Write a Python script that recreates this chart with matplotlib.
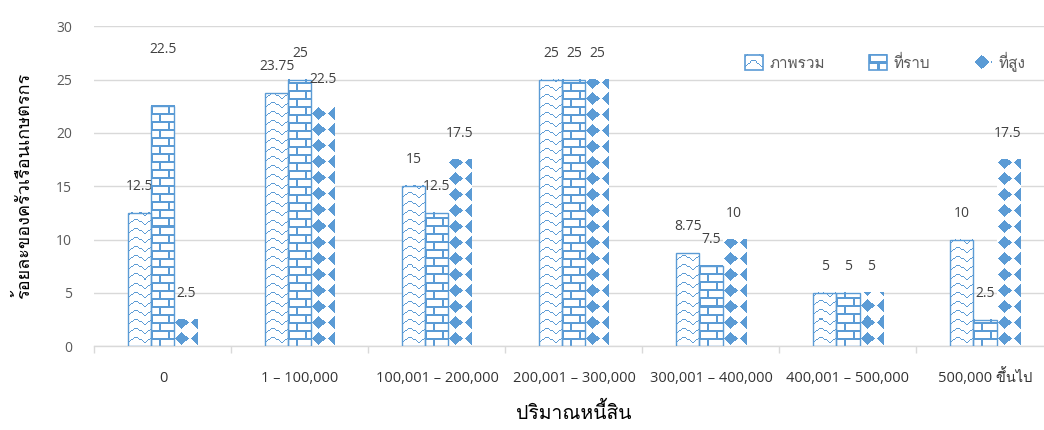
import numpy as np
import matplotlib
matplotlib.use("Agg")
import matplotlib.pyplot as plt
from matplotlib import font_manager
from matplotlib.ft2font import FT2Font
from matplotlib.image import BboxImage
from matplotlib.legend_handler import HandlerBase
from matplotlib.patches import Patch, Rectangle
from matplotlib.transforms import Bbox, TransformedBbox

# share of farm households (%) by debt bracket
debt_brackets = ["0", "1 – 100,000", "100,001 – 200,000", "200,001 – 300,000",
                 "300,001 – 400,000", "400,001 – 500,000", "500,000 ขึ้นไป"]
series_names = ["ภาพรวม", "ที่ราบ", "ที่สูง"]
overall = [12.5, 23.75, 15, 25, 8.75, 5, 10]
lowland = [22.5, 25, 12.5, 25, 7.5, 5, 2.5]
highland = [2.5, 22.5, 17.5, 25, 10, 5, 17.5]

BLUE = "#5B9BD5"


def find_thai_family():
    """First installed font that actually has Thai glyphs."""
    seen = set()
    for f in font_manager.fontManager.ttflist:
        if f.name in seen:
            continue
        seen.add(f.name)
        try:
            if 0x0E01 in FT2Font(f.fname).get_charmap():
                return f.name
        except Exception:
            continue
    return None


thai = find_thai_family()
FAMILY = ["Open Sans"] + ([thai] if thai else []) + ["DejaVu Sans"]
plt.rcParams["font.family"] = FAMILY


# --- fill patterns (True = blue pixel) ---
def wave_tile():
    t = np.zeros((9, 16), dtype=bool)
    ys = np.round(2.5 + 2.5 * np.cos(2 * np.pi * np.arange(17) / 16)).astype(int)
    for xi in range(16):
        lo, hi = sorted((ys[xi], ys[xi + 1]))
        t[lo:max(hi, lo + 1), xi] = True
    return t


def brick_tile():
    t = np.zeros((16, 16), dtype=bool)
    t[0:2, :] = True
    t[8:10, :] = True
    t[0:8, 0:2] = True
    t[8:16, 8:10] = True
    return t


def diamond_tile():
    yy, xx = np.mgrid[0:16, 0:15]
    return np.abs(xx - 7) + np.abs(yy - 8) <= 6.5


def fill_pattern(tile, w, h):
    th, tw = tile.shape
    big = np.tile(tile, (h // th + 2, w // tw + 2))
    mask = big[-h:, :w]
    rgba = np.ones((h, w, 4))
    rgba[mask] = matplotlib.colors.to_rgba(BLUE)
    return rgba


class PatternHandler(HandlerBase):
    def __init__(self, tile, edge):
        super().__init__()
        self.tile = tile
        self.edge = edge

    def create_artists(self, legend, orig_handle, xdescent, ydescent,
                       width, height, fontsize, trans):
        bb = Bbox.from_bounds(-xdescent, -ydescent, width, height)
        img = BboxImage(TransformedBbox(bb, trans), interpolation="nearest")
        px = legend.figure.dpi / 72
        img.set_data(fill_pattern(self.tile, max(int(width * px), 1),
                                  max(int(height * px), 1)))
        arts = [img]
        if self.edge:
            arts.append(Rectangle((-xdescent, -ydescent), width, height,
                                  fill=False, edgecolor=BLUE, lw=1.2,
                                  transform=trans))
        return arts


fig = plt.figure(figsize=(10.44, 4.30), dpi=100)
ax = fig.add_axes([0.0905, 0.1947, 0.9186, 0.7442])
ax.set_xlim(-0.5, len(debt_brackets) - 0.5)
ax.set_ylim(0, 30)

tiles = [wave_tile(), brick_tile(), diamond_tile()]
edges = [True, True, False]
bar_w = 0.168
x = np.arange(len(debt_brackets))
label_lift = {(1, 0): 41}   # the 22.5 label on the first group sits higher

for i, (vals, tile, edge) in enumerate(zip([overall, lowland, highland], tiles, edges)):
    xs = x + (i - 1) * bar_w
    bars = ax.bar(xs, vals, bar_w, facecolor="none",
                  edgecolor=BLUE if edge else "none", linewidth=1.0, zorder=3)
    for j, (b, v) in enumerate(zip(bars, vals)):
        ext = b.get_window_extent()
        w_px = max(int(round(ext.width)), 1)
        h_px = max(int(round(ext.height)), 1)
        ax.imshow(fill_pattern(tile, w_px, h_px),
                  extent=(b.get_x(), b.get_x() + bar_w, 0, v),
                  origin="upper", interpolation="nearest", aspect="auto", zorder=2)
        ax.annotate(f"{v:g}", (xs[j], v), xytext=(0, label_lift.get((i, j), 19)),
                    textcoords="offset points", ha="center", va="center",
                    fontsize=10, color="#404040")

ax.set_xlim(-0.5, len(debt_brackets) - 0.5)
ax.set_ylim(0, 30)
ax.set_yticks(range(0, 31, 5))
ax.set_xticks(x)
ax.set_xticklabels(debt_brackets, va="baseline")
ax.set_xticks(np.arange(-0.5, len(debt_brackets)), minor=True)
ax.tick_params(axis="x", which="major", length=0, pad=26, labelsize=10.5, labelcolor="#333333")
ax.tick_params(axis="x", which="minor", length=5, color="#D9D9D9", width=1)
ax.tick_params(axis="y", length=0, pad=16, labelsize=10, labelcolor="#595959")

ax.grid(axis="y", color="#D9D9D9", linewidth=1)
ax.set_axisbelow(True)
for side in ["top", "right", "left"]:
    ax.spines[side].set_visible(False)
ax.spines["bottom"].set_color("#D9D9D9")
ax.spines["bottom"].set_linewidth(1)

ax.set_ylabel("ร้อยละของครัวเรือนเกษตรกร", fontsize=13, color="black")
ax.yaxis.set_label_coords(-0.064, 0.5)
ax.set_xlabel("ปริมาณหนี้สิน", fontsize=14, color="black")
ax.xaxis.set_label_coords(0.5, -0.175)

handles = [Patch(label=n) for n in series_names]
ax.legend(handles=handles, loc="center left", bbox_to_anchor=(0.7136, 0.856),
          bbox_transform=fig.transFigure, ncol=3, frameon=False, fontsize=11,
          borderpad=0, borderaxespad=0,
          handlelength=1.15, handleheight=1.15, handletextpad=0.45, columnspacing=2.9,
          labelcolor="#595959",
          handler_map={h: PatternHandler(t, e) for h, t, e in zip(handles, tiles, edges)})

fig.savefig("out.png", dpi=100)
